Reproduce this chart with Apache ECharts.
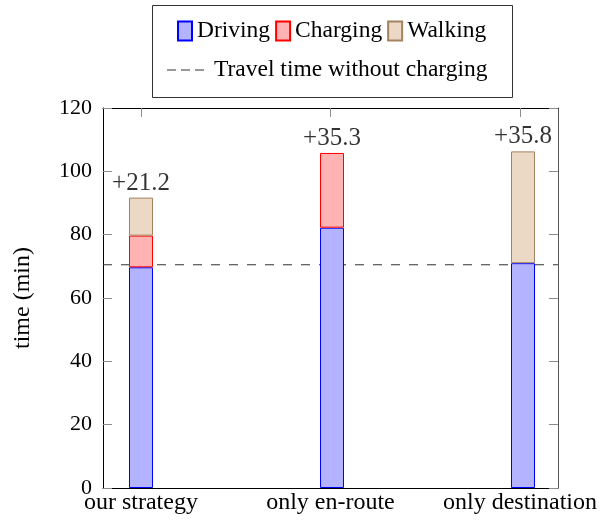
<!DOCTYPE html>
<html>
<head>
<meta charset="utf-8">
<script src="https://cdn.jsdelivr.net/npm/echarts@6/dist/echarts.min.js"></script>
<style>
  html, body { margin: 0; padding: 0; background: #fff; }
  #chart { width: 600px; height: 521px; }
</style>
</head>
<body>
<div id="chart"></div>
<script>
// Strategies compared
const categories = ['our strategy', 'only en-route', 'only destination'];
// Time components in minutes (null = component not present)
const driving = [69.7, 82.2, 71.0];
const charging = [10.0, 23.6, null];
const walking = [12.0, null, 35.3];
// Extra time relative to the trip without charging
const extraLabels = ['+21.2', '+35.3', '+35.8'];
// Travel time without charging (min)
const baselineTime = 70.5;
// Y axis ticks
const yTicks = [0, 20, 40, 60, 80, 100, 120];

const FONT = '"Liberation Serif", "DejaVu Serif", serif';
const positions = categories.map((_, i) => i);
const totals = positions.map(i => (driving[i] || 0) + (charging[i] || 0) + (walking[i] || 0));

const chart = echarts.init(document.getElementById('chart'), null, { renderer: 'canvas' });

const tickStyle = { color: '#8c8c8c', width: 1 };
const frameLine = { show: true, onZero: false, lineStyle: { color: '#000', width: 1 } };

chart.setOption({
  animation: false,
  backgroundColor: '#fff',
  textStyle: { fontFamily: FONT },
  grid: [
    // outer frame: axes, ticks, labels and the reference line
    { left: 103, right: 39, top: 108, bottom: 33, containLabel: false },
    // bar grid: category centres sit on its left and right edges
    { left: 141, right: 77, top: 108, bottom: 33, containLabel: false }
  ],
  graphic: [{
    type: 'rect',
    shape: { x: 152.5, y: 5.5, width: 360, height: 92 },
    style: { fill: '#fff', stroke: '#333', lineWidth: 1 },
    z: 0
  }],
  legend: [{
    data: ['Driving', 'Charging', 'Walking'],
    left: 177, top: 19,
    padding: 0,
    itemGap: 5,
    itemWidth: 14, itemHeight: 19,
    icon: 'rect',
    textStyle: { fontFamily: FONT, fontSize: 23.5, color: '#000' }
  }, {
    data: [{
      name: 'Travel time without charging',
      icon: 'path://M0,0H9V1H0Z M14,0H23V1H14Z M28,0H37V1H28Z'
    }],
    left: 167, top: 58,
    padding: 0,
    itemWidth: 37, itemHeight: 1.2,
    textStyle: { fontFamily: FONT, fontSize: 23.5, color: '#000', padding: [0, 0, 0, 5] }
  }],
  xAxis: [{
    gridIndex: 0,
    type: 'value',
    min: -0.2, max: 2.2,
    position: 'bottom',
    axisLine: frameLine,
    axisTick: { show: true, inside: true, length: 9, customValues: positions, lineStyle: tickStyle },
    axisLabel: {
      show: true, customValues: positions, margin: 3,
      fontFamily: FONT, fontSize: 24, color: '#000',
      formatter: v => categories[Math.round(v)]
    },
    splitLine: { show: false }
  }, {
    gridIndex: 0,
    type: 'value',
    min: -0.2, max: 2.2,
    position: 'top',
    axisLine: frameLine,
    axisTick: { show: true, inside: true, length: 9, customValues: positions, lineStyle: tickStyle },
    axisLabel: { show: false },
    splitLine: { show: false }
  }, {
    gridIndex: 1,
    type: 'category',
    data: categories,
    boundaryGap: false,
    show: false
  }],
  yAxis: [{
    gridIndex: 0,
    type: 'value',
    min: 0, max: 120, interval: 20,
    position: 'left',
    name: 'time (min)',
    nameLocation: 'middle',
    nameGap: 68,
    nameTextStyle: { fontFamily: FONT, fontSize: 24, color: '#000' },
    axisLine: frameLine,
    axisTick: { show: true, inside: true, length: 9, customValues: yTicks, lineStyle: tickStyle },
    axisLabel: { customValues: yTicks, margin: 11, fontFamily: FONT, fontSize: 22, color: '#000' },
    splitLine: { show: false }
  }, {
    gridIndex: 0,
    type: 'value',
    min: 0, max: 120, interval: 20,
    position: 'right',
    axisLine: { show: true, onZero: false, lineStyle: { color: '#555', width: 1 } },
    axisTick: { show: true, inside: true, length: 9, customValues: yTicks, lineStyle: tickStyle },
    axisLabel: { show: false },
    splitLine: { show: false }
  }, {
    gridIndex: 1,
    type: 'value',
    min: 0, max: 120,
    show: false,
    splitLine: { show: false }
  }],
  series: [{
    name: 'Driving', type: 'bar', stack: 'time', barWidth: 24,
    xAxisIndex: 2, yAxisIndex: 2,
    data: driving,
    itemStyle: { color: '#b3b3ff', borderColor: '#0000ff', borderWidth: 1 },
    z: 3
  }, {
    name: 'Charging', type: 'bar', stack: 'time', barWidth: 24,
    xAxisIndex: 2, yAxisIndex: 2,
    data: charging,
    itemStyle: { color: '#ffb3b3', borderColor: '#ff0000', borderWidth: 1 },
    z: 3
  }, {
    name: 'Walking', type: 'bar', stack: 'time', barWidth: 24,
    xAxisIndex: 2, yAxisIndex: 2,
    data: walking,
    itemStyle: { color: '#ebd9c6', borderColor: '#a5825f', borderWidth: 1 },
    z: 3
  }, {
    // reference line, drawn behind the bars
    name: 'Travel time without charging', type: 'line',
    xAxisIndex: 0, yAxisIndex: 0,
    data: [[-0.2, baselineTime], [2.2, baselineTime]],
    symbol: 'none',
    lineStyle: { color: '#333', width: 1, type: [9, 9] },
    itemStyle: { color: '#333' },
    z: 1
  }, {
    name: 'extra', type: 'scatter',
    xAxisIndex: 2, yAxisIndex: 2,
    data: totals,
    symbolSize: 0,
    silent: true,
    label: {
      show: true, position: 'top', distance: 2,
      fontFamily: FONT, fontSize: 25, color: '#000',
      formatter: p => extraLabels[p.dataIndex]
    },
    z: 6
  }]
});
</script>
</body>
</html>
